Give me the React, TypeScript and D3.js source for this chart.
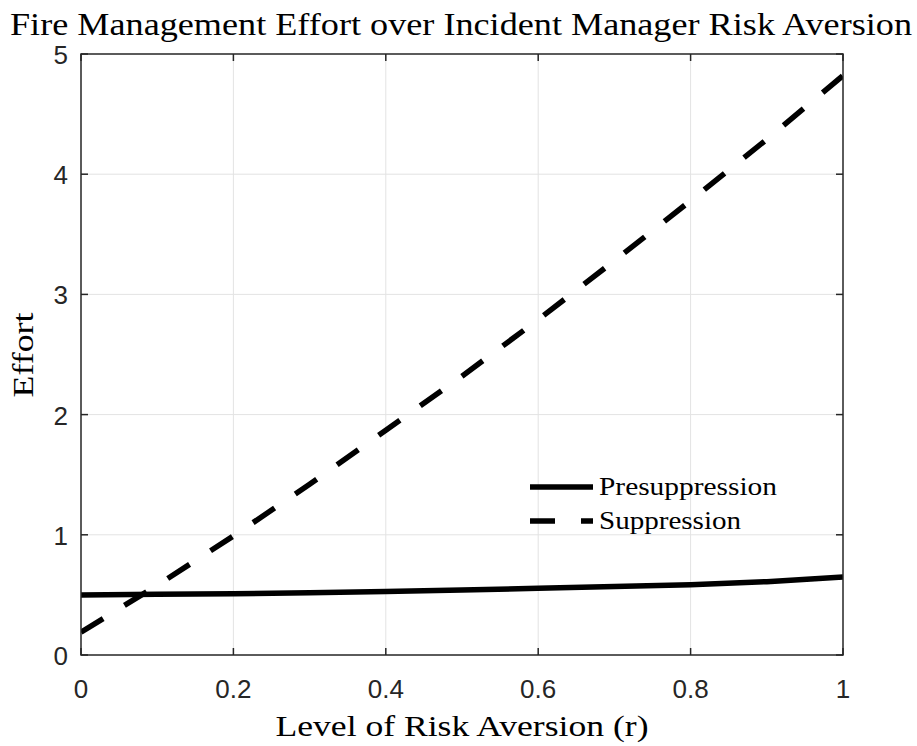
import React from "react";
import * as d3 from "d3";

// Risk aversion levels (r) and resulting management effort
const riskLevels = [0, 0.1, 0.2, 0.3, 0.4, 0.5, 0.6, 0.7, 0.8, 0.9, 1.0];
const presuppression = [0.5, 0.505, 0.51, 0.518, 0.528, 0.54, 0.555, 0.57, 0.585, 0.61, 0.65];
const suppression = [0.19, 0.58, 0.99, 1.42, 1.87, 2.32, 2.79, 3.28, 3.78, 4.29, 4.82];

const xTicks = [0, 0.2, 0.4, 0.6, 0.8, 1];
const yTicks = [0, 1, 2, 3, 4, 5];
const xTickLabels = ["0", "0.2", "0.4", "0.6", "0.8", "1"];
const yTickLabels = ["0", "1", "2", "3", "4", "5"];

const seriesNames = ["Presuppression", "Suppression"];

const W = 917;
const H = 746;
const left = 81;
const right = 843;
const top = 54;
const bottom = 655;

const axisColor = "#262626";
const gridColor = "#e3e3e3";
const sansFont = "'Liberation Sans', Arial, Helvetica, sans-serif";
const serifFont = "'Liberation Serif', 'DejaVu Serif', serif";

export default function App() {
  const x = d3.scaleLinear().domain([0, 1]).range([left, right]);
  const y = d3.scaleLinear().domain([0, 5]).range([bottom, top]);

  const line = d3
    .line<number>()
    .x((_, i) => x(riskLevels[i]))
    .y((d) => y(d));

  const tickLen = 7;

  return (
    <svg
      width={W}
      height={H}
      style={{ position: "absolute", left: 0, top: 0, background: "#fff" }}
    >
      <rect x={0} y={0} width={W} height={H} fill="#fff" />

      {/* grid */}
      {xTicks.slice(1, -1).map((t) => (
        <line key={"gx" + t} x1={x(t)} x2={x(t)} y1={top} y2={bottom} stroke={gridColor} strokeWidth={1} />
      ))}
      {yTicks.slice(1, -1).map((t) => (
        <line key={"gy" + t} x1={left} x2={right} y1={y(t)} y2={y(t)} stroke={gridColor} strokeWidth={1} />
      ))}

      {/* data lines */}
      <clipPath id="plotClip">
        <rect x={left} y={top} width={right - left} height={bottom - top} />
      </clipPath>
      <g clipPath="url(#plotClip)">
        <path d={line(presuppression) || ""} fill="none" stroke="#000" strokeWidth={5.5} />
        <path
          d={line(suppression) || ""}
          fill="none"
          stroke="#000"
          strokeWidth={5.5}
          strokeDasharray="26 25"
        />
      </g>

      {/* box and ticks */}
      <rect x={left} y={top} width={right - left} height={bottom - top} fill="none" stroke={axisColor} strokeWidth={1.5} />
      {xTicks.map((t) => (
        <g key={"tx" + t}>
          <line x1={x(t)} x2={x(t)} y1={bottom} y2={bottom - tickLen} stroke={axisColor} strokeWidth={1.5} />
          <line x1={x(t)} x2={x(t)} y1={top} y2={top + tickLen} stroke={axisColor} strokeWidth={1.5} />
        </g>
      ))}
      {yTicks.map((t) => (
        <g key={"ty" + t}>
          <line x1={left} x2={left + tickLen} y1={y(t)} y2={y(t)} stroke={axisColor} strokeWidth={1.5} />
          <line x1={right} x2={right - tickLen} y1={y(t)} y2={y(t)} stroke={axisColor} strokeWidth={1.5} />
        </g>
      ))}

      {/* tick labels */}
      {xTicks.map((t, i) => (
        <text key={"lx" + t} x={x(t)} y={698} textAnchor="middle" fontFamily={sansFont} fontSize={26} fill={axisColor}>
          {xTickLabels[i]}
        </text>
      ))}
      {yTicks.map((t, i) => (
        <text key={"ly" + t} x={68} y={y(t) + 10} textAnchor="end" fontFamily={sansFont} fontSize={26} fill={axisColor}>
          {yTickLabels[i]}
        </text>
      ))}

      {/* title and axis labels */}
      <text x={461} y={35} textAnchor="middle" fontFamily={serifFont} fontSize={31} fill="#000" textLength={902} lengthAdjust="spacingAndGlyphs">
        Fire Management Effort over Incident Manager Risk Aversion
      </text>
      <text x={462} y={736} textAnchor="middle" fontFamily={serifFont} fontSize={30} fill="#000" textLength={373} lengthAdjust="spacingAndGlyphs">
        Level of Risk Aversion (r)
      </text>
      <text
        transform="translate(33,355) rotate(-90)"
        textAnchor="middle"
        fontFamily={serifFont}
        fontSize={30}
        fill="#000"
        textLength={85}
        lengthAdjust="spacingAndGlyphs"
      >
        Effort
      </text>

      {/* legend */}
      <line x1={530} x2={593} y1={487} y2={487} stroke="#000" strokeWidth={5.5} />
      <line x1={530} x2={593} y1={521} y2={521} stroke="#000" strokeWidth={5.5} strokeDasharray="25 26" />
      <text x={599} y={495} fontFamily={serifFont} fontSize={25} fill="#000" textLength={178} lengthAdjust="spacingAndGlyphs">
        {seriesNames[0]}
      </text>
      <text x={599} y={529} fontFamily={serifFont} fontSize={25} fill="#000" textLength={142} lengthAdjust="spacingAndGlyphs">
        {seriesNames[1]}
      </text>
    </svg>
  );
}
